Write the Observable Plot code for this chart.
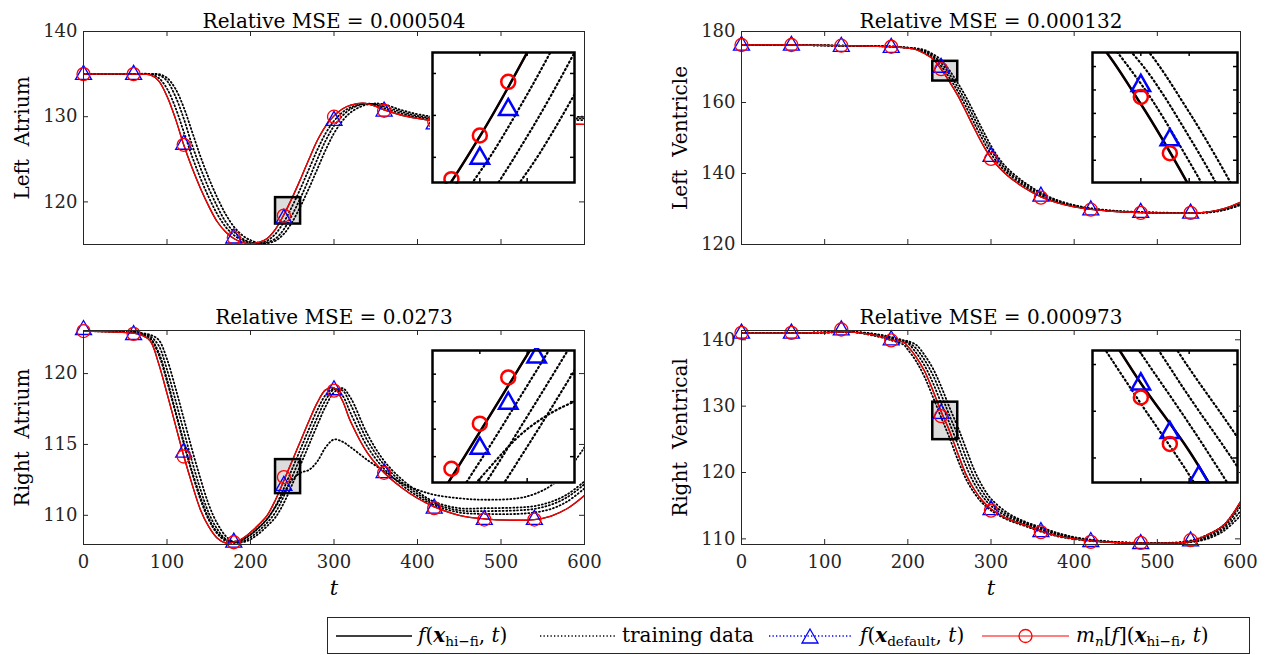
<!DOCTYPE html>
<html><head><meta charset="utf-8">
<script src="https://cdn.jsdelivr.net/npm/d3@7"></script>
<script src="https://cdn.jsdelivr.net/npm/@observablehq/plot@0.6"></script>
<style>
html,body{margin:0;padding:0;background:#fff;}
#root{position:relative;width:1270px;height:655px;overflow:hidden;background:#fff;font-family:"DejaVu Serif",serif;color:#262626;}
.abs{position:absolute;}
#root svg text{font-family:"DejaVu Serif",serif;}
#legend{position:absolute;left:327px;top:617px;width:921px;height:35px;border:1px solid #262626;background:#fff;font-size:20px;color:#000;}
#legend .it{position:absolute;top:0;height:35px;line-height:35px;white-space:nowrap;}
#legend svg{position:absolute;top:7px;}
sub{font-size:0.68em;vertical-align:-0.3em;line-height:0;}
</style></head><body><div id="root"><div id="legend"></div></div>
<script>
// ---------- shared ----------
const xTicks = [0, 100, 200, 300, 400, 500, 600];
const markerT = [0, 60, 120, 180, 240, 300, 360, 420, 480, 540];
const insetT = [230, 260];
const insetXTicks = [240, 250];

// ---------- Left Atrium ----------
const T_LA = [0, 60, 80, 90, 100, 110, 120, 130, 140, 150, 160, 170, 180, 190, 200, 210, 220, 230, 240, 250, 260, 270, 280, 290, 300, 310, 320, 335, 350, 360, 380, 400, 420, 480, 540, 600];
const LA_hifi = [135.0, 135.0, 134.9, 134.2, 132.4, 129.8, 126.7, 124.0, 121.6, 119.5, 117.7, 116.5, 115.7, 115.25, 115.1, 115.25, 115.7, 116.8, 118.5, 120.5, 122.7, 125.0, 127.2, 128.9, 130.1, 130.9, 131.35, 131.6, 131.2, 130.8, 130.2, 129.8, 129.5, 129.3, 129.2, 129.1];
const LA_train1 = [135.0, 135.0, 135.0, 134.55, 133.3, 131.1, 128.25, 125.35, 122.8, 120.55, 118.6, 117.1, 116.1, 115.5, 115.2, 115.15, 115.45, 116.25, 117.65, 119.5, 121.6, 123.85, 126.1, 128.05, 129.5, 130.5, 131.1, 131.5, 131.35, 131.0, 130.4, 129.95, 129.7, 129.6, 129.6, 129.6];
const LA_train2 = [135.0, 135.0, 135.0, 134.9, 134.2, 132.4, 129.8, 126.7, 124.0, 121.6, 119.5, 117.7, 116.5, 115.7, 115.25, 115.1, 115.25, 115.7, 116.8, 118.5, 120.5, 122.7, 125.0, 127.2, 128.9, 130.1, 130.9, 131.5, 131.45, 131.2, 130.6, 130.1, 129.85, 129.75, 129.75, 129.8];
const LA_train3 = [135.0, 135.0, 135.0, 135.0, 134.55, 133.3, 131.1, 128.25, 125.35, 122.8, 120.55, 118.6, 117.1, 116.1, 115.5, 115.2, 115.15, 115.45, 116.25, 117.65, 119.5, 121.6, 123.85, 126.1, 128.05, 129.5, 130.5, 131.3, 131.55, 131.45, 130.8, 130.3, 130.0, 129.9, 129.9, 130.0];
const LA_circ = [135.0, 135.0, 126.7, 115.8, 118.4, 130.0, 130.7, 129.4, 129.3, 129.2];
const LA_tri = [135.2, 135.2, 127.0, 116.0, 118.3, 129.8, 130.9, 129.4, 129.4, 129.4];
const LA_insetY = [117.4, 120.5];
const LA_insetTicks = [118, 119, 120];
const LA_inCircT = [234, 240, 246], LA_inCircY = [117.48, 118.52, 119.8];
const LA_inTriT = [240, 246], LA_inTriY = [118.04, 119.2];

// ---------- Left Ventricle ----------
const T_LV = [0, 60, 120, 180, 200, 210, 220, 230, 240, 250, 260, 270, 280, 290, 300, 310, 320, 340, 360, 380, 400, 420, 450, 480, 510, 540, 560, 580, 600];
const LV_hifi = [176.2, 176.2, 176.0, 175.7, 175.3, 174.9, 173.8, 172.3, 169.4, 165.9, 162.0, 157.4, 152.7, 148.2, 144.4, 141.6, 139.4, 136.0, 133.4, 131.7, 130.6, 129.9, 129.3, 129.0, 128.85, 128.85, 129.1, 130.1, 131.9];
const LV_train1 = [176.2, 176.2, 176.0, 175.75, 175.36, 175.02, 174.13, 172.75, 170.27, 166.95, 163.17, 158.78, 154.11, 149.55, 145.54, 142.44, 140.06, 136.51, 133.79, 131.95, 130.77, 130.0, 129.36, 129.05, 128.87, 128.85, 129.06, 129.95, 131.63];
const LV_train2 = [176.2, 176.2, 176.0, 175.75, 175.42, 175.14, 174.46, 173.2, 171.14, 168.0, 164.34, 160.16, 155.52, 150.9, 146.68, 143.28, 140.72, 137.02, 134.18, 132.21, 130.93, 130.11, 129.42, 129.1, 128.9, 128.85, 129.03, 129.8, 131.36];
const LV_train3 = [176.2, 176.2, 176.0, 175.8, 175.48, 175.26, 174.79, 173.65, 172.01, 169.05, 165.51, 161.54, 156.93, 152.25, 147.82, 144.12, 141.38, 137.53, 134.57, 132.47, 131.1, 130.22, 129.48, 129.15, 128.95, 128.87, 128.99, 129.65, 131.09];
const LV_circ = [176.2, 176.2, 176.0, 175.7, 169.4, 144.1, 133.2, 129.8, 128.9, 128.9];
const LV_tri = [176.7, 176.7, 176.4, 176.1, 170.5, 145.4, 134.2, 130.3, 129.6, 129.4];
const LV_insetY = [166.05, 171.6];
const LV_insetTicks = [167, 168, 169, 170, 171];
const LV_inCircT = [240, 246], LV_inCircY = [169.7, 167.3];
const LV_inTriT = [240, 246], LV_inTriY = [170.3, 167.98];

// ---------- Right Atrium ----------
const T_RA = [0, 60, 70, 80, 90, 100, 110, 120, 130, 140, 150, 160, 170, 180, 190, 200, 210, 220, 230, 240, 250, 260, 270, 280, 290, 300, 310, 320, 340, 360, 380, 400, 420, 450, 480, 520, 540, 560, 580, 600];
const RA_hifi = [123.0, 122.85, 122.7, 122.3, 120.7, 118.6, 116.4, 114.2, 112.2, 110.4, 109.2, 108.4, 108.05, 108.1, 108.35, 108.8, 109.35, 110.0, 111.1, 112.45, 113.85, 115.25, 116.65, 117.95, 118.85, 119.0, 118.1, 116.6, 114.4, 113.0, 112.0, 111.2, 110.6, 110.0, 109.75, 109.65, 109.7, 109.95, 110.5, 111.4];
const RA_train1 = [123.0, 122.9, 122.76, 122.46, 121.34, 119.44, 117.28, 115.08, 113.0, 111.12, 109.68, 108.72, 108.19, 108.08, 108.25, 108.62, 109.13, 109.74, 110.66, 111.91, 113.29, 114.69, 116.09, 117.43, 118.49, 118.94, 118.46, 117.2, 114.84, 113.28, 112.2, 111.36, 110.72, 110.2, 110.1, 110.1, 110.2, 110.45, 111.0, 111.9];
const RA_train2 = [123.0, 122.95, 122.82, 122.62, 121.98, 120.28, 118.16, 115.96, 113.8, 111.84, 110.16, 109.04, 108.33, 108.06, 108.15, 108.44, 108.91, 109.48, 110.22, 111.37, 112.73, 114.13, 115.53, 116.91, 118.13, 118.88, 118.82, 117.8, 115.28, 113.56, 112.4, 111.52, 110.84, 110.35, 110.3, 110.35, 110.45, 110.75, 111.3, 112.2];
const RA_train3 = [123.0, 123.0, 122.86, 122.73, 122.38, 121.02, 119.02, 116.84, 114.64, 112.6, 110.76, 109.44, 108.56, 108.12, 108.09, 108.3, 108.71, 109.24, 109.87, 110.88, 112.18, 113.57, 114.97, 116.37, 117.69, 118.67, 118.97, 118.28, 115.72, 113.84, 112.6, 111.68, 110.96, 110.5, 110.5, 110.55, 110.65, 110.95, 111.5, 112.4];
const RA_train4 = [123.0, 122.9, 122.8, 122.5, 121.5, 119.6, 117.4, 115.2, 113.1, 111.3, 109.8, 108.8, 108.3, 108.15, 108.3, 108.65, 109.15, 109.75, 110.6, 111.6, 112.5, 113.0, 113.2, 113.8, 114.8, 115.35, 115.2, 114.8, 113.9, 113.1, 112.3, 111.8, 111.45, 111.2, 111.1, 111.2, 111.5, 112.1, 113.2, 114.8];
const RA_circ = [123.0, 122.8, 114.15, 108.1, 112.7, 118.8, 113.0, 110.5, 109.7, 109.7];
const RA_tri = [123.25, 122.9, 114.6, 108.25, 112.25, 119.0, 113.15, 110.65, 109.85, 109.85];
const RA_insetY = [111.53, 113.93];
const RA_insetTicks = [112, 112.5, 113, 113.5];
const RA_inCircT = [234, 240, 246], RA_inCircY = [111.78, 112.6, 113.44];
const RA_inTriT = [240, 246, 252], RA_inTriY = [112.2, 113.02, 113.86];

// ---------- Right Ventrical ----------
const T_RV = [0, 60, 100, 130, 160, 180, 195, 200, 210, 220, 230, 240, 250, 260, 270, 280, 290, 300, 320, 340, 360, 380, 400, 420, 450, 480, 510, 540, 560, 580, 600];
const RV_hifi = [141.0, 141.0, 141.1, 141.2, 140.7, 140.0, 139.6, 139.0, 137.4, 135.3, 132.4, 129.2, 126.3, 122.9, 119.7, 117.4, 115.7, 114.5, 113.0, 112.1, 111.2, 110.45, 110.0, 109.7, 109.45, 109.35, 109.35, 109.6, 110.6, 112.1, 115.6];
const RV_train0 = [141.0, 141.0, 141.1, 141.2, 140.6, 139.92, 139.24, 138.52, 136.77, 134.43, 131.44, 128.33, 125.28, 121.94, 119.01, 116.89, 115.34, 114.28, 112.87, 111.97, 111.09, 110.38, 109.96, 109.68, 109.44, 109.35, 109.38, 109.75, 110.6, 112.1, 115.4];
const RV_train1 = [141.0, 141.0, 141.1, 141.2, 140.77, 140.14, 139.71, 139.48, 138.04, 136.14, 133.56, 130.48, 127.46, 124.26, 120.98, 118.32, 116.38, 114.98, 113.3, 112.28, 111.38, 110.6, 110.09, 109.76, 109.48, 109.36, 109.35, 109.57, 110.4, 111.8, 114.9];
const RV_train2 = [141.0, 141.0, 141.1, 141.2, 140.84, 140.28, 139.84, 139.65, 138.68, 136.98, 134.72, 131.76, 128.62, 125.62, 122.26, 119.24, 117.06, 115.46, 113.6, 112.46, 111.56, 110.75, 110.18, 109.82, 109.5, 109.37, 109.35, 109.53, 110.2, 111.5, 114.2];
const RV_train3 = [141.0, 141.0, 141.1, 141.2, 140.9, 140.42, 139.92, 139.79, 139.24, 137.72, 135.72, 132.98, 129.84, 126.88, 123.58, 120.34, 117.86, 116.04, 113.9, 112.64, 111.74, 110.9, 110.27, 109.88, 109.55, 109.39, 109.35, 109.5, 110.0, 111.2, 113.5];
const RV_circ = [141.05, 141.05, 141.55, 139.9, 128.5, 114.25, 111.0, 109.55, 109.4, 109.8];
const RV_tri = [141.3, 141.3, 141.8, 140.3, 129.2, 114.7, 111.4, 109.9, 109.6, 110.0];
const RV_insetY = [124.95, 130.6];
const RV_insetTicks = [126, 128, 130];
const RV_inCircT = [240, 246], RV_inCircY = [128.59, 126.6];
const RV_inTriT = [240, 246, 252], RV_inTriY = [129.28, 127.2, 125.31];

// ---------- drawing ----------
const FONT = '"DejaVu Serif",serif';
const AX = "#262626";
const rows = (xs, ys) => xs.map((t, i) => ({t, y: ys[i]}));
const triSymbol = {draw(ctx, size) {
  const k = Math.sqrt(size / 132.7), h = 14 * k, w = 16 * k;
  ctx.moveTo(0, -h / 2); ctx.lineTo(w / 2, h / 2); ctx.lineTo(-w / 2, h / 2); ctx.closePath();
}};

const panels = [
  {title: "Relative MSE = 0.000504", ylabel: "Left  Atrium", T: T_LA, hifi: LA_hifi, training: [LA_train1, LA_train2, LA_train3],
   circ: LA_circ, tri: LA_tri, yDomain: [115.0, 140], yTicks: [120, 130, 140],
   inY: LA_insetY, inTicks: LA_insetTicks, inCT: LA_inCircT, inCY: LA_inCircY, inTT: LA_inTriT, inTY: LA_inTriY,
   left: 0, top: 0, width: 620, height: 290, ml: 83, mr: 36, mt: 31, mb: 46, titleDy: -18, showX: false,
   inset: {left: 432, top: 52, w: 142, h: 130}},
  {title: "Relative MSE = 0.000132", ylabel: "Left  Ventricle", T: T_LV, hifi: LV_hifi, training: [LV_train1, LV_train2, LV_train3],
   circ: LV_circ, tri: LV_tri, yDomain: [120, 180], yTicks: [120, 140, 160, 180],
   inY: LV_insetY, inTicks: LV_insetTicks, inCT: LV_inCircT, inCY: LV_inCircY, inTT: LV_inTriT, inTY: LV_inTriY,
   left: 640, top: 0, width: 630, height: 290, ml: 101, mr: 30, mt: 31, mb: 46, titleDy: -18, showX: false,
   inset: {left: 1092, top: 52, w: 145, h: 130}},
  {title: "Relative MSE = 0.0273", ylabel: "Right  Atrium", T: T_RA, hifi: RA_hifi, training: [RA_train1, RA_train2, RA_train3, RA_train4],
   circ: RA_circ, tri: RA_tri, yDomain: [107.94, 123.04], yTicks: [110, 115, 120],
   inY: RA_insetY, inTicks: RA_insetTicks, inCT: RA_inCircT, inCY: RA_inCircY, inTT: RA_inTriT, inTY: RA_inTriY,
   left: 0, top: 290, width: 620, height: 320, ml: 83, mr: 36, mt: 40, mb: 66, titleDy: -21, showX: true,
   inset: {left: 432, top: 350, w: 142, h: 132}},
  {title: "Relative MSE = 0.000973", ylabel: "Right  Ventrical", T: T_RV, hifi: RV_hifi, training: [RV_train0, RV_train1, RV_train2, RV_train3],
   circ: RV_circ, tri: RV_tri, yDomain: [109.15, 141.4], yTicks: [110, 120, 130, 140],
   inY: RV_insetY, inTicks: RV_insetTicks, inCT: RV_inCircT, inCY: RV_inCircY, inTT: RV_inTriT, inTY: RV_inTriY,
   left: 640, top: 290, width: 630, height: 320, ml: 101, mr: 30, mt: 40, mb: 66, titleDy: -21, showX: true,
   inset: {left: 1092, top: 350, w: 145, h: 132}}
];

const root = document.getElementById("root");
function place(el, left, top) {
  const d = document.createElement("div");
  d.className = "abs"; d.style.left = left + "px"; d.style.top = top + "px";
  d.appendChild(el); root.appendChild(d);
}

function mainPanel(p) {
  const pw = p.width - p.ml - p.mr, ph = p.height - p.mt - p.mb;
  const box = [{x1: insetT[0], x2: insetT[1], y1: p.inY[0], y2: p.inY[1]}];
  const L = {x: "t", y: "y", curve: "catmull-rom", clip: true};
  const marks = [
    Plot.rect(box, {x1: "x1", x2: "x2", y1: "y1", y2: "y2", fill: "#dcdcdc"}),
    Plot.line(rows(p.T, p.hifi), {...L, stroke: "black", strokeWidth: 1.3}),
    ...p.training.map(tr => Plot.line(rows(p.T, tr), {...L, stroke: "black", strokeWidth: 1.8, strokeDasharray: "1,2.6"})),
    Plot.line(rows(p.T, p.hifi), {...L, stroke: "#ff0000", strokeWidth: 1.3}),
    Plot.rect(box, {x1: "x1", x2: "x2", y1: "y1", y2: "y2", fill: "none", stroke: "black", strokeWidth: 2.5}),
    Plot.dot(rows(markerT, p.tri), {x: "t", y: "y", symbol: triSymbol, r: 6.5, stroke: "#0000ff", strokeWidth: 1.3, fill: "none"}),
    Plot.dot(rows(markerT, p.circ), {x: "t", y: "y", r: 6.5, stroke: "#ff0000", strokeWidth: 1.3, fill: "none"}),
    Plot.ruleX(xTicks, {stroke: AX, insetTop: ph - 5}),
    Plot.ruleX(xTicks, {stroke: AX, insetBottom: ph - 5}),
    Plot.ruleY(p.yTicks, {stroke: AX, insetRight: pw - 5}),
    Plot.ruleY(p.yTicks, {stroke: AX, insetLeft: pw - 5}),
    Plot.frame({stroke: AX, strokeWidth: 1}),
    Plot.text([p.title], {text: d => d, frameAnchor: "top", textAnchor: "middle", dy: p.titleDy, fontSize: 20, fontFamily: FONT, fill: "#000"}),
    Plot.text([p.ylabel], {text: d => d, frameAnchor: "left", textAnchor: "middle", dx: -61, rotate: -90, fontSize: 20, fontFamily: FONT, fill: "#000"})
  ];
  if (p.showX) marks.push(Plot.text(["t"], {text: d => d, frameAnchor: "bottom", textAnchor: "middle", dy: 50, fontStyle: "italic", fontSize: 21, fontFamily: FONT, fill: "#000"}));
  const svg = Plot.plot({
    width: p.width, height: p.height,
    marginLeft: p.ml, marginRight: p.mr, marginTop: p.mt, marginBottom: p.mb,
    style: {fontFamily: FONT, fontSize: "18px", color: AX, background: "transparent", overflow: "visible"},
    x: {domain: [0, 600], ticks: xTicks, tickSize: 0, tickPadding: 11, label: null, axis: p.showX ? "bottom" : null},
    y: {domain: p.yDomain, ticks: p.yTicks, tickSize: 0, tickPadding: 6, label: null},
    marks
  });
  place(svg, p.left, p.top);
}

function insetPanel(p) {
  const {w, h} = p.inset, m = 2;
  const L = {x: "t", y: "y", curve: "catmull-rom", clip: true};
  const svg = Plot.plot({
    width: w + 2 * m, height: h + 2 * m, margin: m,
    style: {background: "white", overflow: "hidden"},
    x: {domain: insetT, axis: null},
    y: {domain: p.inY, axis: null},
    marks: [
      ...p.training.map(tr => Plot.line(rows(p.T, tr), {...L, stroke: "black", strokeWidth: 2.2, strokeDasharray: "1.2,3"})),
      Plot.line(rows(p.T, p.hifi), {...L, stroke: "#ff0000", strokeWidth: 2}),
      Plot.line(rows(p.T, p.hifi), {...L, stroke: "black", strokeWidth: 2.5}),
      Plot.ruleX(insetXTicks, {stroke: "black", strokeWidth: 1.5, insetTop: h - 4}),
      Plot.ruleX(insetXTicks, {stroke: "black", strokeWidth: 1.5, insetBottom: h - 4}),
      Plot.ruleY(p.inTicks, {stroke: "black", strokeWidth: 1.5, insetRight: w - 4}),
      Plot.ruleY(p.inTicks, {stroke: "black", strokeWidth: 1.5, insetLeft: w - 4}),
      Plot.dot(rows(p.inTT, p.inTY), {x: "t", y: "y", symbol: triSymbol, r: 7.5, stroke: "#0000ff", strokeWidth: 2.5, fill: "none"}),
      Plot.dot(rows(p.inCT, p.inCY), {x: "t", y: "y", r: 7, stroke: "#ff0000", strokeWidth: 2.5, fill: "none"}),
      Plot.frame({stroke: "black", strokeWidth: 2.5})
    ]
  });
  place(svg, p.inset.left - m, p.inset.top - m);
}

panels.forEach(mainPanel);
panels.forEach(insetPanel);

// ---------- legend ----------
const legend = document.getElementById("legend");
const legendItems = [
  {left: 8, w: 76, kind: "hifi", html: "<i>f</i>(<b><i>x</i></b><sub>hi−fi</sub>, <i>t</i>)", textLeft: 90},
  {left: 212, w: 75, kind: "train", html: "training data", textLeft: 294},
  {left: 441, w: 82, kind: "default", html: "<i>f</i>(<b><i>x</i></b><sub>default</sub>, <i>t</i>)", textLeft: 532},
  {left: 654, w: 87, kind: "mn", html: "<i>m<sub>n</sub></i>[<i>f</i>](<b><i>x</i></b><sub>hi−fi</sub>, <i>t</i>)", textLeft: 748}
];
for (const it of legendItems) {
  const ns = "http://www.w3.org/2000/svg";
  const s = document.createElementNS(ns, "svg");
  s.setAttribute("width", it.w); s.setAttribute("height", 22);
  s.style.left = it.left + "px";
  const line = document.createElementNS(ns, "line");
  line.setAttribute("x1", 0); line.setAttribute("x2", it.w); line.setAttribute("y1", 11); line.setAttribute("y2", 11);
  const stroke = it.kind === "default" ? "#0000ff" : it.kind === "mn" ? "#ff0000" : "black";
  line.setAttribute("stroke", stroke);
  line.setAttribute("stroke-width", it.kind === "mn" ? 1.2 : 1.3);
  if (it.kind === "train" || it.kind === "default") line.setAttribute("stroke-dasharray", "1.3,2.2");
  s.appendChild(line);
  if (it.kind === "default") {
    const tri = document.createElementNS(ns, "path");
    const c = it.w / 2;
    tri.setAttribute("d", `M${c},4L${c + 8},18L${c - 8},18Z`);
    tri.setAttribute("fill", "none"); tri.setAttribute("stroke", "#0000ff"); tri.setAttribute("stroke-width", 1.3);
    s.appendChild(tri);
  }
  if (it.kind === "mn") {
    const cir = document.createElementNS(ns, "circle");
    cir.setAttribute("cx", it.w / 2); cir.setAttribute("cy", 11); cir.setAttribute("r", 6.5);
    cir.setAttribute("fill", "none"); cir.setAttribute("stroke", "#ff0000"); cir.setAttribute("stroke-width", 1.3);
    s.appendChild(cir);
  }
  legend.appendChild(s);
  const t = document.createElement("span");
  t.className = "it"; t.style.left = it.textLeft + "px"; t.innerHTML = it.html;
  legend.appendChild(t);
}
</script></body></html>
